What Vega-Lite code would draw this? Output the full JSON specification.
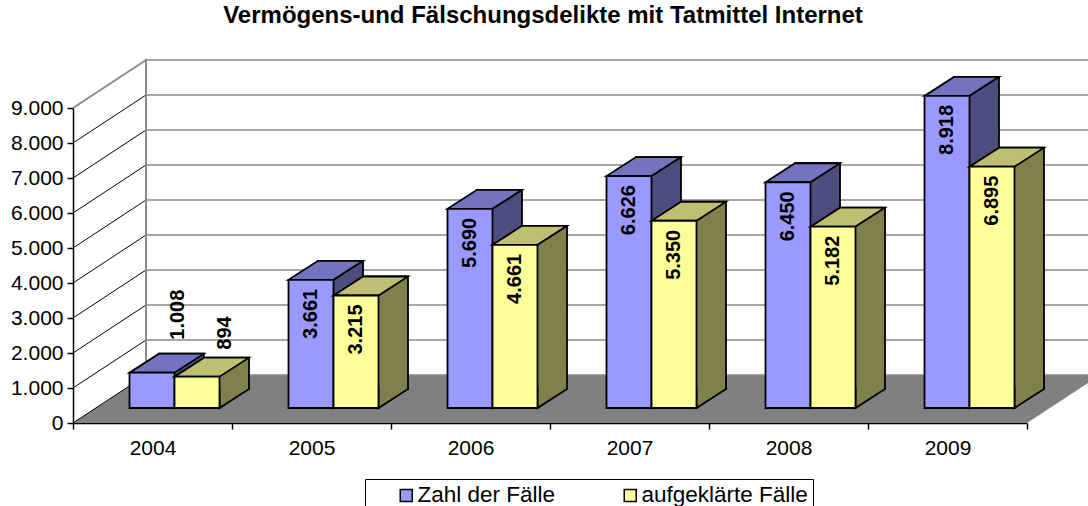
{
  "$schema": "https://vega.github.io/schema/vega-lite/v6.json",
  "autosize": {"type": "none"},
  "padding": {"left": 73, "top": 108, "right": 61, "bottom": 83},
  "width": 954,
  "height": 315,
  "background": "white",
  "title": {
    "text": "Vermögens-und Fälschungsdelikte mit Tatmittel Internet",
    "fontSize": 24,
    "fontWeight": "bold",
    "font": "Liberation Sans",
    "color": "black",
    "anchor": "middle",
    "dx": -7,
    "offset": 28
  },
  "datasets": {
    "bars": [
      {"year": "2004", "series": "Zahl der Fälle", "value": 1008},
      {"year": "2004", "series": "aufgeklärte Fälle", "value": 894},
      {"year": "2005", "series": "Zahl der Fälle", "value": 3661},
      {"year": "2005", "series": "aufgeklärte Fälle", "value": 3215},
      {"year": "2006", "series": "Zahl der Fälle", "value": 5690},
      {"year": "2006", "series": "aufgeklärte Fälle", "value": 4661},
      {"year": "2007", "series": "Zahl der Fälle", "value": 6626},
      {"year": "2007", "series": "aufgeklärte Fälle", "value": 5350},
      {"year": "2008", "series": "Zahl der Fälle", "value": 6450},
      {"year": "2008", "series": "aufgeklärte Fälle", "value": 5182},
      {"year": "2009", "series": "Zahl der Fälle", "value": 8918},
      {"year": "2009", "series": "aufgeklärte Fälle", "value": 6895}
    ],
    "grid": [
      {"level": 0}, {"level": 1000}, {"level": 2000}, {"level": 3000}, {"level": 4000},
      {"level": 5000}, {"level": 6000}, {"level": 7000}, {"level": 8000}, {"level": 9000}
    ]
  },
  "layer": [
    {
      "data": {"values": [{}]},
      "mark": {"type": "point", "shape": "M -79.5 0 L 874.5 0 L 947.5 -48 L -6.5 -48 Z", "size": 4, "filled": true, "fill": "#808080", "strokeWidth": 0, "opacity": 1},
      "encoding": {
        "x": {"datum": "2004", "type": "nominal", "title": null, "axis": {"domainColor": "black", "domainWidth": 1.5, "tickColor": "black", "tickWidth": 1.5, "tickSize": 6, "tickBand": "extent", "labelFontSize": 21, "labelColor": "black", "labelPadding": 8, "labelAngle": 0, "grid": false, "labelFont": "Liberation Sans"}},
        "y": {"datum": 0, "type": "quantitative", "title": null, "scale": {"domain": [0, 9000], "nice": false}, "axis": {"values": [0, 1000, 2000, 3000, 4000, 5000, 6000, 7000, 8000, 9000], "tickCount": 10, "format": ",d", "labelOverlap": false, "domainColor": "black", "domainWidth": 1.5, "tickColor": "black", "tickWidth": 1.5, "tickSize": 6, "labelFontSize": 21, "labelColor": "black", "labelPadding": 4, "grid": false, "labelFont": "Liberation Sans"}}
      }
    },
    {
      "data": {"name": "grid"},
      "mark": {"type": "point", "shape": "M -6.5 -48 L 947.5 -48", "size": 4, "filled": false, "stroke": "#8a8a8a", "strokeWidth": 1.5, "opacity": 1},
      "encoding": {
        "x": {"datum": "2004", "type": "nominal", "title": null},
        "y": {"field": "level", "type": "quantitative", "title": null}
      }
    },
    {
      "data": {"name": "grid"},
      "transform": [{"filter": "datum.level < 9000"}],
      "mark": {"type": "point", "shape": "M -79.5 0 L -6.5 -48", "size": 4, "filled": false, "stroke": "black", "strokeWidth": 1, "opacity": 1},
      "encoding": {
        "x": {"datum": "2004", "type": "nominal", "title": null},
        "y": {"field": "level", "type": "quantitative", "title": null}
      }
    },
    {
      "data": {"name": "grid"},
      "transform": [{"filter": "datum.level == 9000"}],
      "mark": {"type": "point", "shape": "M -79.5 0 L -6.5 -48 L -6.5 267", "size": 4, "filled": false, "stroke": "#8a8a8a", "strokeWidth": 2, "opacity": 1},
      "encoding": {
        "x": {"datum": "2004", "type": "nominal", "title": null},
        "y": {"field": "level", "type": "quantitative", "title": null}
      }
    },
    {
      "data": {"name": "bars"},
      "transform": [{"filter": "datum.series == 'Zahl der Fälle'"}],
      "mark": {"type": "bar", "width": 45, "xOffset": 29, "yOffset": -34, "y2Offset": -34, "fill": "#4D4D80", "stroke": "black", "strokeWidth": 1.8},
      "encoding": {
        "x": {"field": "year", "type": "nominal", "title": null},
        "y": {"field": "value", "type": "quantitative", "title": null},
        "y2": {"datum": 0}
      }
    },
    {
      "data": {"name": "bars"},
      "transform": [{"filter": "datum.series == 'Zahl der Fälle'"}],
      "mark": {"type": "point", "shape": "M 22 -21 L 22 0 L 51.5 -19 L 51.5 -21", "size": 4, "filled": true, "fill": "#4D4D80", "stroke": "black", "strokeWidth": 1.8, "opacity": 1, "yOffset": -15},
      "encoding": {
        "x": {"field": "year", "type": "nominal", "title": null},
        "y": {"datum": 0, "type": "quantitative", "title": null}
      }
    },
    {
      "data": {"name": "bars"},
      "transform": [{"filter": "datum.series == 'Zahl der Fälle'"}],
      "mark": {"type": "point", "shape": "M -23 0 L 22 0 L 51.5 -19 L 6.5 -19 Z", "size": 4, "filled": true, "fill": "#7373BF", "stroke": "black", "strokeWidth": 1.8, "opacity": 1, "yOffset": -15},
      "encoding": {
        "x": {"field": "year", "type": "nominal", "title": null},
        "y": {"field": "value", "type": "quantitative", "title": null}
      }
    },
    {
      "data": {"name": "bars"},
      "transform": [{"filter": "datum.series == 'Zahl der Fälle'"}],
      "mark": {"type": "bar", "width": 45, "xOffset": -0.5, "yOffset": -15, "y2Offset": -15, "stroke": "black", "strokeWidth": 1.8, "opacity": 1},
      "encoding": {
        "x": {"field": "year", "type": "nominal", "title": null},
        "y": {"field": "value", "type": "quantitative", "title": null},
        "y2": {"datum": 0},
        "fill": {
          "field": "series", "type": "nominal",
          "scale": {"domain": ["Zahl der Fälle", "aufgeklärte Fälle"], "range": ["#9999FF", "#FFFF99"]},
          "legend": {"orient": "none", "legendX": 292, "legendY": 371, "direction": "horizontal", "title": "\u00a0", "titleOrient": "left", "titlePadding": 25, "titleFontSize": 4, "symbolType": "square", "symbolSize": 144, "symbolStrokeColor": "black", "symbolStrokeWidth": 1.5, "symbolOpacity": 1, "labelFontSize": 22.5, "labelFont": "Liberation Sans", "labelColor": "black", "labelOffset": 0, "labelLimit": 300, "columnPadding": 63, "strokeColor": "black", "fillColor": "white", "padding": 5}
        }
      }
    },
    {
      "data": {"name": "bars"},
      "transform": [{"filter": "datum.series == 'aufgeklärte Fälle'"}],
      "mark": {"type": "bar", "width": 45, "xOffset": 74, "yOffset": -34, "y2Offset": -34, "fill": "#80804D", "stroke": "black", "strokeWidth": 1.8},
      "encoding": {
        "x": {"field": "year", "type": "nominal", "title": null},
        "y": {"field": "value", "type": "quantitative", "title": null},
        "y2": {"datum": 0}
      }
    },
    {
      "data": {"name": "bars"},
      "transform": [{"filter": "datum.series == 'aufgeklärte Fälle'"}],
      "mark": {"type": "point", "shape": "M 67 -21 L 67 0 L 96.5 -19 L 96.5 -21", "size": 4, "filled": true, "fill": "#80804D", "stroke": "black", "strokeWidth": 1.8, "opacity": 1, "yOffset": -15},
      "encoding": {
        "x": {"field": "year", "type": "nominal", "title": null},
        "y": {"datum": 0, "type": "quantitative", "title": null}
      }
    },
    {
      "data": {"name": "bars"},
      "transform": [{"filter": "datum.series == 'aufgeklärte Fälle'"}],
      "mark": {"type": "point", "shape": "M 22 0 L 67 0 L 96.5 -19 L 51.5 -19 Z", "size": 4, "filled": true, "fill": "#BFBF73", "stroke": "black", "strokeWidth": 1.8, "opacity": 1, "yOffset": -15},
      "encoding": {
        "x": {"field": "year", "type": "nominal", "title": null},
        "y": {"field": "value", "type": "quantitative", "title": null}
      }
    },
    {
      "data": {"name": "bars"},
      "transform": [{"filter": "datum.series == 'aufgeklärte Fälle'"}],
      "mark": {"type": "bar", "width": 45, "xOffset": 44.5, "yOffset": -15, "y2Offset": -15, "stroke": "black", "strokeWidth": 1.8, "opacity": 1},
      "encoding": {
        "x": {"field": "year", "type": "nominal", "title": null},
        "y": {"field": "value", "type": "quantitative", "title": null},
        "y2": {"datum": 0},
        "fill": {"field": "series", "type": "nominal"}
      }
    },
    {
      "data": {"name": "bars"},
      "transform": [{"filter": "datum.series == 'Zahl der Fälle' && datum.value >= 2000"}],
      "mark": {"type": "text", "angle": 270, "align": "right", "baseline": "middle", "xOffset": -0.5, "yOffset": -6, "fontSize": 20, "fontWeight": "bold", "font": "Liberation Sans", "color": "black"},
      "encoding": {
        "x": {"field": "year", "type": "nominal", "title": null},
        "y": {"field": "value", "type": "quantitative", "title": null},
        "text": {"field": "value", "type": "quantitative", "format": ",d"}
      }
    },
    {
      "data": {"name": "bars"},
      "transform": [{"filter": "datum.series == 'aufgeklärte Fälle' && datum.value >= 2000"}],
      "mark": {"type": "text", "angle": 270, "align": "right", "baseline": "middle", "xOffset": 44.5, "yOffset": -6, "fontSize": 20, "fontWeight": "bold", "font": "Liberation Sans", "color": "black"},
      "encoding": {
        "x": {"field": "year", "type": "nominal", "title": null},
        "y": {"field": "value", "type": "quantitative", "title": null},
        "text": {"field": "value", "type": "quantitative", "format": ",d"}
      }
    },
    {
      "data": {"name": "bars"},
      "transform": [{"filter": "datum.series == 'Zahl der Fälle' && datum.value < 2000"}],
      "mark": {"type": "text", "angle": 270, "align": "left", "baseline": "middle", "xOffset": 25, "yOffset": -48, "fontSize": 20, "fontWeight": "bold", "font": "Liberation Sans", "color": "black"},
      "encoding": {
        "x": {"field": "year", "type": "nominal", "title": null},
        "y": {"field": "value", "type": "quantitative", "title": null},
        "text": {"field": "value", "type": "quantitative", "format": ",d"}
      }
    },
    {
      "data": {"name": "bars"},
      "transform": [{"filter": "datum.series == 'aufgeklärte Fälle' && datum.value < 2000"}],
      "mark": {"type": "text", "angle": 270, "align": "left", "baseline": "middle", "xOffset": 72.5, "yOffset": -42, "fontSize": 20, "fontWeight": "bold", "font": "Liberation Sans", "color": "black"},
      "encoding": {
        "x": {"field": "year", "type": "nominal", "title": null},
        "y": {"field": "value", "type": "quantitative", "title": null},
        "text": {"field": "value", "type": "quantitative", "format": ",d"}
      }
    }
  ],
  "config": {
    "view": {"stroke": null},
    "font": "Liberation Sans",
    "scale": {"bandPaddingInner": 0, "bandPaddingOuter": 0},
    "axisY": {"labelOverlap": false, "labelFontSize": 21, "labelPadding": 4},
    "locale": {"number": {"decimal": ",", "thousands": ".", "grouping": [3], "currency": ["", " €"]}}
  }
}
